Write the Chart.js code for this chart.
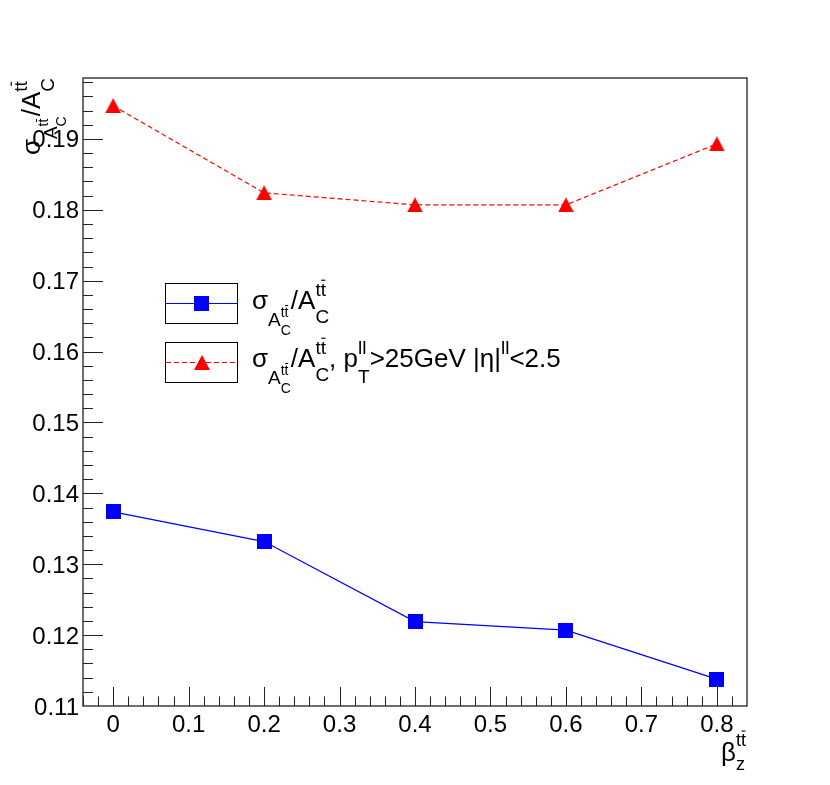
<!DOCTYPE html>
<html><head><meta charset="utf-8">
<script src="https://cdn.jsdelivr.net/npm/chart.js@4.4.0/dist/chart.umd.min.js"></script>
<style>html,body{margin:0;padding:0;background:#fff;}</style>
</head><body>
<canvas id="c" width="830" height="785"></canvas>
<script>
// ---- data ----
const betaZ = [0, 0.2, 0.4, 0.6, 0.8];
const sigmaAll = [0.1374, 0.1332, 0.1219, 0.1207, 0.1138];
const sigmaCut = [0.1947, 0.1824, 0.1807, 0.1807, 0.1893];
const xTickValues = [0, 0.1, 0.2, 0.3, 0.4, 0.5, 0.6, 0.7, 0.8];
const xTickLabels = ['0', '0.1', '0.2', '0.3', '0.4', '0.5', '0.6', '0.7', '0.8'];
const yTickValues = [0.11, 0.12, 0.13, 0.14, 0.15, 0.16, 0.17, 0.18, 0.19];
const yTickLabels = ['0.11', '0.12', '0.13', '0.14', '0.15', '0.16', '0.17', '0.18', '0.19'];

const FONT = '"Liberation Sans", Arial, sans-serif';
const BLUE = '#0000ff', RED = '#ff0000';

function triImg(w, h, col) {
  const c = document.createElement('canvas');
  c.width = w; c.height = h;
  const g = c.getContext('2d');
  g.fillStyle = col;
  g.beginPath(); g.moveTo(w / 2, 0); g.lineTo(w, h); g.lineTo(0, h); g.closePath(); g.fill();
  return c;
}
function sqImg(s, col) {
  const c = document.createElement('canvas');
  c.width = s; c.height = s;
  const g = c.getContext('2d');
  g.fillStyle = col; g.fillRect(0, 0, s, s);
  return c;
}
const TRI = triImg(16, 15, RED);
const SQ = sqImg(15, BLUE);

function piece(ctx, q, x, y, draw) {
  ctx.font = q.s + 'px ' + FONT;
  const w = ctx.measureText(q.t).width;
  if (draw) {
    ctx.fillText(q.t, x, y + q.dy);
    if (q.bar) {
      const lw = ctx.measureText(q.t.slice(-1)).width;
      ctx.fillRect(x + w - lw + lw * 0.1, y + q.dy - q.s * 0.86, lw * 0.8, Math.max(1, q.s * 0.06));
    }
  }
  return w;
}
function rich(ctx, parts, x, y, draw) {
  let cx = x;
  for (const p of parts) {
    if (p.stack) {
      let w = 0;
      for (const q of p.stack) w = Math.max(w, piece(ctx, q, cx, y, draw));
      cx += w;
    } else cx += piece(ctx, p, cx, y, draw);
  }
  return cx - x;
}
function sigmaParts(m, s1, s2) {
  return [
    { t: 'σ', s: m, dy: 0 },
    { t: 'A', s: s1, dy: Math.round(s1 * 0.9) },
    { stack: [{ t: 'tt', s: s2, dy: Math.round(s1 * 0.4), bar: true }, { t: 'C', s: s2, dy: Math.round(s1 * 1.35) }] },
    { t: '/A', s: m, dy: 0 },
    { stack: [{ t: 'tt', s: s1, dy: -Math.round(m * 0.5), bar: true }, { t: 'C', s: s1, dy: Math.round(m * 0.55) }] }
  ];
}

const decor = {
  id: 'decor',
  beforeDatasetsDraw(chart) {
    const ctx = chart.ctx, a = chart.chartArea;
    const xs = chart.scales.x, ys = chart.scales.y;
    ctx.save();
    ctx.strokeStyle = '#222'; ctx.lineWidth = 1.3;
    ctx.strokeRect(a.left, a.top, a.right - a.left, a.bottom - a.top);
    ctx.lineWidth = 1; ctx.strokeStyle = '#222';
    ctx.beginPath();
    for (let i = -2; i <= 41; i++) {
      const v = i * 0.02;
      const px = Math.round(xs.getPixelForValue(v)) + 0.5;
      if (px < a.left || px > a.right) continue;
      const len = (i % 5 === 0) ? 19 : 9.5;
      ctx.moveTo(px, a.bottom); ctx.lineTo(px, a.bottom - len);
    }
    for (let i = 0; i <= 44; i++) {
      const v = 0.11 + i * 0.002;
      const py = Math.round(ys.getPixelForValue(v)) + 0.5;
      if (py < a.top || py > a.bottom) continue;
      const len = (i % 5 === 0) ? 20 : 10;
      ctx.moveTo(a.left, py); ctx.lineTo(a.left + len, py);
    }
    ctx.stroke();
    ctx.restore();
  },
  afterDraw(chart) {
    const ctx = chart.ctx, a = chart.chartArea;
    const xs = chart.scales.x, ys = chart.scales.y;
    ctx.save();
    ctx.fillStyle = '#000';
    ctx.font = '24px ' + FONT;
    ctx.textAlign = 'center'; ctx.textBaseline = 'alphabetic';
    xTickValues.forEach((v, i) => ctx.fillText(xTickLabels[i], xs.getPixelForValue(v), a.bottom + 26));
    ctx.textAlign = 'right';
    yTickValues.forEach((v, i) => ctx.fillText(yTickLabels[i], a.left - 4, ys.getPixelForValue(v) + 8.5));
    ctx.textAlign = 'left';

    // x title
    const xt = [{ t: 'β', s: 26, dy: 0 }, { stack: [{ t: 'tt', s: 18, dy: -15, bar: true }, { t: 'z', s: 18, dy: 9 }] }];
    const xw = rich(ctx, xt, 0, 0, false);
    rich(ctx, xt, a.right - xw - 1, 761, true);

    // y title (rotated)
    const yt = sigmaParts(26, 19, 14);
    const yw = rich(ctx, yt, 0, 0, false);
    ctx.save();
    ctx.translate(40, a.top);
    ctx.rotate(-Math.PI / 2);
    rich(ctx, yt, -yw, 0, true);
    ctx.restore();

    // legend
    const bx = 165, bw = 72, bh = 40;
    const rows = [{ top: 283, col: BLUE, dash: [], img: SQ }, { top: 342, col: RED, dash: [5, 3], img: TRI }];
    rows.forEach(r => {
      ctx.strokeStyle = '#000'; ctx.lineWidth = 1; ctx.setLineDash([]);
      ctx.strokeRect(bx + 0.5, r.top + 0.5, bw, bh);
      const cy = r.top + bh / 2 + 0.5;
      ctx.strokeStyle = r.col; ctx.setLineDash(r.dash);
      ctx.beginPath(); ctx.moveTo(bx + 1, cy); ctx.lineTo(bx + bw, cy); ctx.stroke();
      ctx.setLineDash([]);
      ctx.drawImage(r.img, Math.round(bx + bw / 2 + 0.5 - r.img.width / 2), Math.round(cy - r.img.height / 2));
    });
    ctx.fillStyle = '#000';
    rich(ctx, sigmaParts(26, 19, 14), 252, 309, true);
    const p2 = sigmaParts(26, 19, 14).concat([
      { t: ', p', s: 26, dy: 0 },
      { stack: [{ t: 'll', s: 19, dy: -13 }, { t: 'T', s: 19, dy: 16 }] },
      { t: '>25GeV |η|', s: 26, dy: 0 },
      { t: 'll', s: 19, dy: -13 },
      { t: '<2.5', s: 26, dy: 0 }
    ]);
    rich(ctx, p2, 252, 367, true);
    ctx.restore();
  }
};

new Chart(document.getElementById('c'), {
  type: 'line',
  data: {
    datasets: [
      {
        data: betaZ.map((x, i) => ({ x, y: sigmaAll[i] })),
        borderColor: BLUE, borderWidth: 1.2, pointStyle: SQ, pointRadius: 8, fill: false, tension: 0
      },
      {
        data: betaZ.map((x, i) => ({ x, y: sigmaCut[i] })),
        borderColor: RED, borderWidth: 1.2, borderDash: [5, 3], pointStyle: TRI, pointRadius: 8, fill: false, tension: 0
      }
    ]
  },
  options: {
    responsive: false, devicePixelRatio: 1, animation: false,
    layout: { padding: { left: 83, top: 78, right: 83, bottom: 79 } },
    plugins: { legend: { display: false }, tooltip: { enabled: false } },
    scales: {
      x: { type: 'linear', min: -0.04, max: 0.84, display: false },
      y: { type: 'linear', min: 0.11, max: 0.1986, display: false }
    }
  },
  plugins: [decor]
});
</script>
</body></html>
